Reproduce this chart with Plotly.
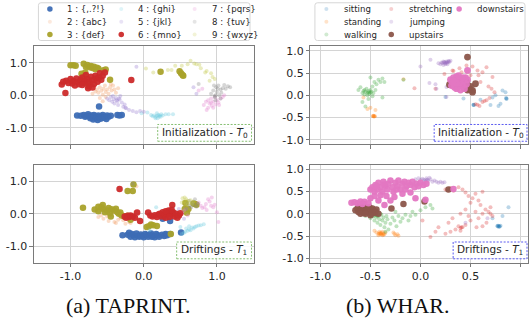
import plotly.graph_objects as go

W, H = 529, 324

# ---------------- categories / labels ----------------
tap_labels = ["1 : {,.?!}", "2 : {abc}", "3 : {def}", "4 : {ghi}", "5 : {jkl}",
              "6 : {mno}", "7 : {pqrs}", "8 : {tuv}", "9 : {wxyz}"]
whar_labels = ["sitting", "standing", "walking", "stretching", "jumping", "upstairs", "downstairs"]

tap_tickvals = [-1.0, 0.0, 1.0]
tap_ticktext = ["-1.0", "0.0", "1.0"]
whar_tickvals = [-1.0, -0.5, 0.0, 0.5, 1.0]
whar_ticktext = ["-1.0", "-0.5", "0.0", "0.5", "1.0"]

caption_a = "(a) TAPRINT."
caption_b = "(b) WHAR."
label_t0 = "Initialization - <i>T</i><sub>0</sub>"
label_t1 = "Driftings - <i>T</i><sub>1</sub>"

# ---------------- TAPRINT, T0 ----------------
tap0_c1 = [(-0.91,-0.62),(-0.86,-0.63),(-0.82,-0.60),(-0.80,-0.66),(-0.78,-0.63),(-0.76,-0.58),(-0.74,-0.65),
           (-0.73,-0.70),(-0.71,-0.62),(-0.70,-0.67),(-0.69,-0.74),(-0.68,-0.60),(-0.66,-0.64),(-0.65,-0.70),
           (-0.64,-0.66),(-0.63,-0.76),(-0.62,-0.62),(-0.60,-0.68),(-0.59,-0.72),(-0.58,-0.64),(-0.56,-0.60),
           (-0.55,-0.69),(-0.53,-0.66),(-0.51,-0.73),(-0.50,-0.62),(-0.48,-0.66),(-0.45,-0.63),(-0.36,-0.60),
           (-0.33,-0.62),(-0.30,-0.60),(-0.61,-0.34)]
tap0_c2 = [(-0.70,0.05),(-0.66,0.12),(-0.64,0.18),(-0.62,0.08),(-0.60,0.25),(-0.58,0.14),(-0.56,0.02),
           (-0.55,0.20),(-0.53,0.30),(-0.52,0.10),(-0.50,0.18),(-0.48,0.05),(-0.46,0.25),(-0.44,0.15),
           (-0.42,0.30),(-0.40,0.18),(-0.45,0.35),(-0.60,-0.08),(-0.56,-0.18),(-0.52,-0.05),(-0.65,0.35),
           (-0.38,0.08),(-0.70,0.28),(-0.35,0.22)]
tap0_c3 = [(-1.00,0.92),(-0.96,0.92),(-0.93,0.91),(-0.82,0.97),(-0.79,0.88),(-0.77,0.93),(-0.74,0.86),
           (-0.72,0.90),(-0.70,0.84),(-0.68,0.88),(-0.66,0.80),(-0.64,0.85),(-0.62,0.82),(-0.55,0.77),
           (-0.52,0.79),(-0.85,0.66),(-0.80,0.70),(-0.76,0.35),(-0.73,0.37),(-0.46,0.48),(0.23,0.72),
           (0.49,0.74),(0.51,0.68),(0.53,0.62),(0.54,0.60)]
tap0_c4 = [(-0.03,-0.55),(0.05,-0.53),(0.10,-0.60),(0.12,-0.64),(0.14,-0.62),(0.16,-0.66),(0.18,-0.63),
           (0.19,-0.70),(0.20,-0.60),(0.21,-0.65),(0.22,-0.62),(0.24,-0.58),(0.26,-0.62),(0.30,-0.58),
           (0.34,-0.58),(0.40,-0.58),(0.18,-0.55),(0.16,-0.70),(0.23,-0.66)]
tap0_c5 = [(-0.50,-0.10),(-0.47,-0.15),(-0.45,-0.05),(-0.43,-0.20),(-0.41,-0.12),(-0.40,-0.25),(-0.38,-0.08),
           (-0.36,-0.18),(-0.35,-0.30),(-0.33,-0.12),(-0.32,-0.02),(-0.30,-0.22),(-0.28,-0.35),(-0.26,-0.28),
           (-0.24,-0.40),(-0.20,-0.45),(-0.15,-0.48),(-0.10,-0.52),(-0.05,-0.48),(0.00,-0.50),(-0.10,0.88),
           (0.68,0.25),(0.72,0.05),(-0.42,-0.02),(-0.25,-0.38),(-0.37,-0.15),(-0.34,-0.10)]
tap0_c6 = [(-1.12,0.33),(-1.10,0.42),(-1.07,0.07),(-1.06,0.45),(-1.03,0.38),(-1.00,0.50),(-0.98,0.36),
           (-0.96,0.44),(-0.94,0.30),(-0.92,0.52),(-0.90,0.40),(-0.88,0.34),(-0.86,0.48),(-0.84,0.55),
           (-0.82,0.38),(-0.80,0.45),(-0.79,0.62),(-0.77,0.50),(-0.75,0.28),(-0.74,0.40),(-0.72,0.57),
           (-0.70,0.46),(-0.68,0.35),(-0.66,0.60),(-0.65,0.52),(-0.63,0.42),(-0.61,0.55),(-0.60,0.68),
           (-0.58,0.48),(-0.56,0.60),(-0.53,0.70),(-0.76,0.22),(-0.70,0.24),(-0.84,0.32),(-0.17,0.47)]
tap0_c7 = [(0.82,-0.30),(0.85,-0.20),(0.88,-0.15),(0.90,-0.25),(0.92,-0.10),(0.93,-0.32),(0.95,-0.20),
           (0.97,-0.05),(0.98,-0.28),(1.00,-0.15),(1.02,-0.22),(1.05,-0.10),(1.08,-0.05),(1.10,0.00),
           (0.88,-0.38),(0.86,-0.45),(0.95,-0.38),(0.75,0.15),(0.80,0.20),(1.03,-0.30),(0.92,-0.22)]
tap0_c8 = [(0.92,0.05),(0.95,0.15),(0.97,-0.05),(0.99,0.25),(1.00,0.10),(1.02,0.30),(1.03,0.00),
           (1.05,0.18),(1.06,0.08),(1.08,0.22),(1.10,0.32),(1.12,0.20),(1.15,0.28),(1.18,0.25),
           (1.05,-0.10),(0.98,-0.15),(1.01,0.20),(0.96,0.30),(0.75,0.35),(0.97,-0.02),(0.98,0.0)]
tap0_c9 = [(0.03,0.82),(0.13,0.70),(0.33,0.78),(0.38,0.78),(0.43,0.91),(0.52,0.91),(0.64,1.06),
           (0.69,0.98),(0.72,0.95),(0.76,0.94),(0.78,0.83),(0.84,0.70),(0.86,0.75),(0.92,0.68),
           (0.94,0.56),(0.90,0.45),(0.97,0.50),(0.60,0.95)]

# ---------------- TAPRINT, T1 ----------------
tap1_c1 = [(-0.29,-0.66),(-0.22,-0.64),(-0.20,-0.58),(-0.18,-0.70),(-0.16,-0.62),(-0.14,-0.66),(-0.12,-0.72),
           (-0.10,-0.60),(-0.08,-0.67),(-0.06,-0.70),(-0.04,-0.63),(-0.02,-0.68),(0.00,-0.72),(0.02,-0.62),
           (0.04,-0.66),(0.06,-0.70),(0.08,-0.64),(0.10,-0.60),(0.11,-0.70),(0.13,-0.67),(0.15,-0.72),
           (0.17,-0.62),(0.19,-0.66),(0.21,-0.70),(0.25,-0.64),(0.28,-0.68),(0.30,-0.62),(0.32,-0.66),
           (0.36,-0.62),(0.51,-0.57),(0.36,-0.22),(0.26,-0.15)]
tap1_c2 = [(-0.62,-0.10),(-0.58,-0.05),(-0.55,-0.15),(-0.50,-0.08),(-0.48,-0.22),(-0.44,-0.05),(-0.40,-0.25),
           (-0.38,-0.28),(-0.35,-0.18),(-0.32,-0.12),(-0.28,-0.20),(-0.25,-0.30),(-0.20,-0.25),(-0.15,-0.15),
           (-0.12,0.05),(-0.08,-0.15),(-0.60,0.10),(-0.10,0.85),(-0.18,-0.28),(-0.42,0.05)]
tap1_c3 = [(-0.83,0.19),(-0.67,0.13),(-0.62,0.08),(-0.58,0.20),(-0.56,0.27),(-0.55,0.15),(-0.53,0.05),
           (-0.50,0.10),(-0.48,0.18),(-0.46,0.02),(-0.44,0.14),(-0.40,0.10),(-0.38,0.16),(-0.36,0.05),
           (-0.34,0.00),(-0.32,0.04),(-0.30,-0.05),(-0.45,-0.08),(-0.62,0.22),(-0.27,-0.07),(-0.22,-0.06),
           (-0.18,-0.18),(-0.22,0.70),(-0.15,0.70),(-0.14,0.90),(0.07,-0.38),(0.10,-0.33),(0.13,-0.35),
           (0.18,-0.37),(0.04,-0.40),(0.37,-0.62),(0.56,0.15),(0.59,0.03),(0.57,0.33),(0.61,0.15),
           (0.68,0.32),(0.70,0.30),(0.72,0.28)]
tap1_c4 = [(0.52,-0.62),(0.55,-0.58),(0.57,-0.55),(0.60,-0.52),(0.62,-0.48),(0.64,-0.50),(0.66,-0.42),
           (0.68,-0.45),(0.70,-0.40),(0.72,-0.38),(0.75,-0.36),(0.78,-0.35),(0.82,-0.32),(0.58,-0.45),
           (0.62,-0.38),(0.17,0.20),(0.08,-0.50),(0.50,-0.40)]
tap1_c5 = [(0.45,0.05),(0.50,-0.08),(0.55,-0.15),(0.42,-0.10),(0.48,0.15),(0.40,0.18),(0.58,0.15),
           (0.35,-0.05),(0.52,0.02)]
tap1_c6 = [(-0.26,-0.08),(-0.24,-0.12),(-0.22,-0.06),(-0.20,-0.10),(-0.18,-0.05),(-0.15,-0.08),(-0.12,-0.12),
           (-0.09,0.04),(-0.05,-0.22),(0.06,0.04),(0.09,-0.05),(0.12,-0.08),(0.15,-0.04),(0.18,-0.10),
           (0.20,-0.02),(0.22,0.00),(0.24,-0.08),(0.26,0.05),(0.28,-0.05),(0.30,-0.12),(0.32,0.02),
           (0.34,0.10),(0.39,0.27),(0.37,-0.03),(0.40,0.05),(0.42,-0.08),(0.44,0.00),(0.46,-0.12),
           (0.48,-0.05),(0.50,0.02),(0.38,0.12),(-0.33,0.76),(0.30,0.08),(0.35,-0.10)]
tap1_c7 = [(0.78,0.25),(0.80,0.18),(0.83,0.20),(0.85,0.30),(0.88,0.45),(0.90,0.38),(0.92,0.25),
           (0.95,0.20),(0.97,0.28),(1.00,0.05),(1.02,-0.25),(0.86,0.12),(0.93,0.50),(0.75,0.35),
           (0.55,0.10),(0.60,-0.05)]
tap1_c8 = [(0.60,0.30),(0.63,0.25),(0.66,0.35),(0.68,0.28),(0.70,0.45),(0.72,0.22),(0.74,0.32),
           (0.65,0.20),(0.62,0.40),(-0.15,0.92)]
tap1_c9 = [(0.53,0.48),(0.56,0.50),(0.58,0.45),(0.60,0.40),(0.55,0.38),(0.62,0.35),(0.64,0.42),
           (0.57,0.30),(0.60,0.28),(0.66,0.30),(0.52,0.35),(0.68,0.38)]

# ---------------- WHAR, T0 ----------------
whar0_sitting = [(0.82,0.11),(0.85,0.07),(0.75,0.00),(0.80,-0.19),(0.78,-0.24),(0.43,-0.07),(0.25,-0.04),
                 (0.72,-0.05),(0.70,-0.22),(0.86,-0.07),(0.86,-0.08),(0.855,-0.06),(0.53,-0.22),
                 (0.53,-0.21),(0.535,-0.22),(0.60,-0.10)]
whar0_standing = [(-0.57,-0.05),(-0.53,-0.31),(-0.45,-0.33),(-0.17,0.36),(-0.47,-0.47),(-0.46,-0.47),
                  (-0.475,-0.465),(-0.465,-0.475),(-0.47,-0.46),(-0.455,-0.47),(-0.50,-0.28)]
whar0_walking = [(-0.62,0.12),(-0.60,0.18),(-0.58,0.05),(-0.57,0.10),(-0.56,0.02),(-0.55,0.08),(-0.54,0.15),
                 (-0.53,0.06),(-0.52,0.10),(-0.51,0.03),(-0.50,0.12),(-0.49,0.08),(-0.48,0.20),(-0.47,0.05),
                 (-0.46,0.30),(-0.45,0.12),(-0.44,0.25),(-0.42,0.35),(-0.40,0.30),(-0.38,0.38),(-0.36,0.30),
                 (-0.38,-0.05),(-0.58,-0.15),(-0.55,-0.25),(-0.50,0.40),(-0.52,-0.08),(-0.17,0.35),
                 (-0.56,0.12),(-0.53,0.00),(-0.48,-0.02),(-0.52,0.07),(-0.50,0.06)]
whar0_stretching = [(0.32,0.56),(0.39,0.61),(0.46,0.67),(0.52,0.65),(0.57,0.56),(0.66,0.63),(0.72,0.41),
                    (0.71,0.15),(0.74,0.07),(0.69,-0.06),(0.66,-0.11),(0.62,-0.15),(0.59,-0.24),(0.55,-0.20),
                    (0.24,0.48),(-0.06,0.16),(0.41,0.52),(0.45,0.42),(0.50,0.45),(0.60,0.30),(0.15,0.15),
                    (0.68,0.20),(0.47,0.53),(0.58,0.45),(0.62,0.52),(0.64,-0.13),(0.57,-0.21),(0.33,0.55)]
whar0_jumping = [(0.10,0.80),(0.00,0.65),(0.18,0.72),(0.20,0.70),(0.21,0.74),(0.22,0.73),(0.23,0.76),
                 (0.24,0.75),(0.25,0.72),(0.26,0.76),(0.27,0.74),(0.28,0.77),(0.29,0.75),(0.30,0.78),
                 (0.25,0.70),(0.23,0.68),(0.27,0.70),(0.26,0.19),(0.16,0.15),(0.09,0.28),(0.26,-0.04),
                 (0.26,0.74),(0.28,0.76),(0.24,0.74),(0.15,0.25)]
whar0_upstairs = [(0.47,0.86),(0.29,0.24),(0.41,0.22),(0.46,0.30),(0.52,0.11),(0.55,0.26),(0.49,0.15),
                  (0.44,0.16),(0.52,0.07),(0.50,0.20),(0.47,0.12)]
whar0_downstairs = [(0.30,0.35),(0.32,0.30),(0.33,0.40),(0.34,0.25),(0.35,0.35),(0.36,0.42),(0.37,0.30),
                    (0.38,0.20),(0.39,0.36),(0.40,0.28),(0.41,0.38),(0.42,0.22),(0.43,0.33),(0.44,0.15),
                    (0.45,0.40),(0.46,0.25),(0.47,0.35),(0.47,0.56),(0.36,0.15),(0.34,0.18),(0.40,0.12),
                    (0.42,0.40),(0.31,0.22),(0.38,0.44),(0.36,0.28),(0.33,0.33)]

# ---------------- WHAR, T1 ----------------
whar1_sitting = [(0.77,-0.28),(0.78,-0.27),(0.79,-0.28),(0.78,-0.29),(0.80,-0.27),(0.77,-0.27),
                 (0.79,-0.29),(0.88,0.15),(0.72,-0.10),(0.82,-0.05)]
whar1_standing = [(-0.44,-0.42),(-0.42,-0.45),(-0.41,-0.40),(-0.40,-0.46),(-0.39,-0.43),(-0.38,-0.48),
                  (-0.37,-0.44),(-0.36,-0.46),(-0.35,-0.42),(-0.42,-0.48),(-0.38,-0.40),(-0.40,-0.43),
                  (-0.37,-0.47),(-0.26,-0.45),(-0.25,-0.48),(-0.23,-0.46),(-0.27,-0.42),(-0.22,-0.49),
                  (-0.46,-0.38),(-0.39,-0.46),(-0.41,-0.44)]
whar1_walking = [(-0.50,-0.10),(-0.48,-0.05),(-0.46,-0.15),(-0.45,-0.02),(-0.44,-0.08),(-0.43,-0.20),
                 (-0.42,-0.05),(-0.41,-0.12),(-0.40,-0.25),(-0.39,-0.02),(-0.38,-0.15),(-0.37,-0.08),
                 (-0.36,-0.30),(-0.35,-0.20),(-0.34,-0.05),(-0.33,-0.12),(-0.32,-0.35),(-0.30,-0.22),
                 (-0.28,-0.08),(-0.26,-0.15),(-0.24,-0.28),(-0.22,-0.05),(-0.20,-0.18),(-0.18,-0.10),
                 (-0.15,-0.02),(-0.12,-0.15),(-0.10,-0.05),(-0.08,0.05),(-0.05,-0.02),(0.00,0.08),
                 (0.05,0.15),(0.10,0.20),(0.12,0.12),(-0.46,0.00),(-0.44,-0.03),(-0.42,-0.01),
                 (-0.40,0.00),(-0.47,-0.06),(-0.55,-0.05),(-0.25,0.05),(-0.35,-0.40),(-0.43,-0.04)]
whar1_stretching = [(0.25,0.55),(0.30,0.58),(0.33,0.52),(0.38,0.60),(0.42,0.55),(0.45,0.48),(0.48,0.40),
                    (0.52,0.35),(0.55,0.45),(0.58,0.30),(0.60,0.20),(0.62,0.50),(0.65,0.10),(0.68,0.05),
                    (0.70,0.00),(0.72,-0.05),(0.62,0.00),(0.58,-0.10),(0.55,0.05),(0.50,-0.15),(0.45,-0.25),
                    (0.42,-0.30),(0.40,-0.32),(0.38,-0.28),(0.35,-0.35),(0.30,-0.40),(0.25,-0.45),
                    (0.15,-0.40),(0.28,-0.20),(0.32,-0.10),(0.40,0.00),(0.45,0.10),(0.48,-0.05),
                    (0.56,-0.30),(0.62,-0.28),(0.50,0.25),(0.70,0.15),(0.66,-0.20),(0.10,-0.52),
                    (0.40,-0.38),(0.41,-0.30),(0.02,-0.15),(0.18,-0.30),(0.27,0.53),(0.29,0.56)]
whar1_jumping = [(-0.05,0.78),(-0.02,0.80),(0.00,0.76),(0.02,0.79),(0.04,0.75),(0.06,0.80),(0.07,0.77),
                 (0.08,0.74),(0.10,0.78),(0.12,0.72),(0.14,0.75),(0.16,0.72),(0.18,0.70),(0.20,0.72),
                 (0.22,0.70),(0.24,0.71),(0.05,0.72),(0.09,0.81),(0.67,-0.10),(0.45,-0.20),(0.03,0.77),
                 (0.06,0.76)]
whar1_upstairs = [(-0.65,0.08),(-0.63,0.12),(-0.62,0.04),(-0.60,0.15),(-0.59,0.06),(-0.58,0.10),(-0.57,0.02),
                  (-0.56,0.18),(-0.55,0.08),(-0.54,0.12),(-0.53,0.04),(-0.52,0.10),(-0.51,0.15),(-0.50,0.06),
                  (-0.49,0.00),(-0.48,0.12),(-0.47,0.08),(-0.46,0.02),(-0.45,0.05),(-0.61,0.20),(-0.57,0.22),
                  (-0.50,-0.03),(-0.44,0.10),(-0.29,0.12),(-0.17,0.22),(0.04,0.28),(0.28,0.55),(-0.42,0.00),
                  (-0.60,0.00),(-0.55,0.00)]
whar1_downstairs = [(-0.69,0.25),(-0.66,0.26),(-0.63,0.24),(-0.60,0.28),(-0.58,0.22),(-0.56,0.27),(-0.52,0.24),
                    (-0.50,0.55),(-0.48,0.60),(-0.46,0.50),(-0.45,0.65),(-0.43,0.55),(-0.42,0.70),(-0.40,0.60),
                    (-0.38,0.50),(-0.37,0.72),(-0.35,0.62),(-0.33,0.55),(-0.32,0.68),(-0.30,0.75),(-0.28,0.60),
                    (-0.27,0.50),(-0.25,0.70),(-0.23,0.62),(-0.22,0.75),(-0.20,0.55),(-0.18,0.68),(-0.16,0.72),
                    (-0.14,0.62),(-0.12,0.70),(-0.10,0.65),(-0.08,0.72),(-0.06,0.60),(-0.04,0.68),(-0.02,0.62),
                    (0.00,0.70),(0.03,0.65),(0.06,0.68),(-0.46,0.40),(-0.40,0.42),(-0.34,0.40),(-0.26,0.38),
                    (-0.18,0.45),(-0.10,0.48),(-0.05,0.35),(0.05,0.32),(-0.30,0.30),(-0.42,0.30),(0.33,0.56),
                    (-0.36,0.20),(-0.50,0.35),(-0.44,0.62),(-0.36,0.66),(-0.24,0.55),(-0.15,0.55)]

tap_t0 = [tap0_c1, tap0_c2, tap0_c3, tap0_c4, tap0_c5, tap0_c6, tap0_c7, tap0_c8, tap0_c9]
tap_t1 = [tap1_c1, tap1_c2, tap1_c3, tap1_c4, tap1_c5, tap1_c6, tap1_c7, tap1_c8, tap1_c9]
whar_t0 = [whar0_sitting, whar0_standing, whar0_walking, whar0_stretching, whar0_jumping, whar0_upstairs, whar0_downstairs]
whar_t1 = [whar1_sitting, whar1_standing, whar1_walking, whar1_stretching, whar1_jumping, whar1_upstairs, whar1_downstairs]

# ---------------- styles ----------------
tap_colors = ["#3d6db5", "#f29a62", "#a9a22b", "#6ccbe0", "#9a80d2", "#cc2b2b", "#e285cf", "#8a8a8a", "#c4c84a"]
tap_big = [True, False, True, False, False, True, False, False, False]
whar_colors = ["#1f77b4", "#ff7f0e", "#2ca02c", "#d62728", "#9467bd", "#8c564b", "#e377c2"]
whar_big = [False, False, False, False, False, True, True]

FONT = "DejaVu Sans"
fig = go.Figure()


def px_x(p):
    return p / W


def px_y(p):
    return 1 - p / H


def add_points(points, color, big, xa, ya, size_big, opacity_faint):
    xs = [p[0] for p in points]
    ys = [p[1] for p in points]
    fig.add_trace(go.Scatter(
        x=xs, y=ys, mode="markers", xaxis=xa, yaxis=ya, showlegend=False, hoverinfo="skip",
        marker=dict(color=color, size=size_big if big else 4,
                    opacity=0.95 if big else opacity_faint, line=dict(width=0))))


for cls, pts in enumerate(tap_t0):
    add_points(pts, tap_colors[cls], tap_big[cls], "x", "y", 6.5, 0.35)
for cls, pts in enumerate(tap_t1):
    add_points(pts, tap_colors[cls], tap_big[cls], "x2", "y2", 6.5, 0.35)
for cls, pts in enumerate(whar_t0):
    add_points(pts, whar_colors[cls], whar_big[cls], "x3", "y3", 6.8, 0.3)
for cls, pts in enumerate(whar_t1):
    add_points(pts, whar_colors[cls], whar_big[cls], "x4", "y4", 6.5, 0.3)

# ---------------- axes ----------------
axis_style = dict(showgrid=True, gridcolor="#d4d4d4", gridwidth=1, zeroline=False,
                  showline=True, mirror=True, linecolor="#7a7a7a", linewidth=1,
                  ticks="outside", ticklen=3.5, tickcolor="#7a7a7a",
                  tickfont=dict(family=FONT, size=11, color="#262626"))

left_x = [px_x(33), px_x(253)]
right_x = [px_x(310), px_x(528)]
top_y = [px_y(144), px_y(45)]
bot_y = [px_y(264), px_y(165)]

layout_axes = dict(
    xaxis=dict(domain=left_x, anchor="y", range=[-1.5, 1.5], tickvals=tap_tickvals, ticktext=tap_ticktext,
               showticklabels=False, **axis_style),
    yaxis=dict(domain=top_y, anchor="x", range=[-1.5, 1.5], tickvals=tap_tickvals, ticktext=tap_ticktext, **axis_style),
    xaxis2=dict(domain=left_x, anchor="y2", range=[-1.5, 1.5], tickvals=tap_tickvals, ticktext=tap_ticktext, **axis_style),
    yaxis2=dict(domain=bot_y, anchor="x2", range=[-1.5, 1.5], tickvals=tap_tickvals, ticktext=tap_ticktext, **axis_style),
    xaxis3=dict(domain=right_x, anchor="y3", range=[-1.1, 1.075], tickvals=whar_tickvals, ticktext=whar_ticktext,
                showticklabels=False, **axis_style),
    yaxis3=dict(domain=top_y, anchor="x3", range=[-1.1, 1.1], tickvals=whar_tickvals, ticktext=whar_ticktext, **axis_style),
    xaxis4=dict(domain=right_x, anchor="y4", range=[-1.1, 1.075], tickvals=whar_tickvals, ticktext=whar_ticktext, **axis_style),
    yaxis4=dict(domain=bot_y, anchor="x4", range=[-1.1, 1.1], tickvals=whar_tickvals, ticktext=whar_ticktext, **axis_style),
)

# hidden axes hosting the two hand-built legends (ranges in page pixels)
hidden = dict(visible=False, showgrid=False, zeroline=False, fixedrange=True)
leg_l = (35, 252)
leg_r = (312, 527)
leg_y = (0, 41)
layout_axes.update(
    xaxis5=dict(domain=[px_x(leg_l[0]), px_x(leg_l[1])], range=list(leg_l), anchor="y5", **hidden),
    yaxis5=dict(domain=[px_y(leg_y[1]), px_y(leg_y[0])], range=[leg_y[1], leg_y[0]], anchor="x5", **hidden),
    xaxis6=dict(domain=[px_x(leg_r[0]), px_x(leg_r[1])], range=list(leg_r), anchor="y6", **hidden),
    yaxis6=dict(domain=[px_y(leg_y[1]), px_y(leg_y[0])], range=[leg_y[1], leg_y[0]], anchor="x6", **hidden),
)

annotations = []
shapes = []


def rounded_box(x0, y0, x1, y1, r, xref, yref, color):
    path = (f"M {x0 + r},{y0} L {x1 - r},{y0} Q {x1},{y0} {x1},{y0 + r} L {x1},{y1 - r} "
            f"Q {x1},{y1} {x1 - r},{y1} L {x0 + r},{y1} Q {x0},{y1} {x0},{y1 - r} "
            f"L {x0},{y0 + r} Q {x0},{y0} {x0 + r},{y0} Z")
    shapes.append(dict(type="path", path=path, xref=xref, yref=yref,
                       line=dict(color=color, width=1), fillcolor="rgba(255,255,255,0.8)", layer="below"))


def build_legend(labels, colors, big, xref, yref, col_x, text_dx, nrows=3):
    row_y = [7, 20, 33]
    for i, lab in enumerate(labels):
        c, r = divmod(i, nrows)
        mx, my = col_x[c], row_y[r]
        fig.add_trace(go.Scatter(
            x=[mx], y=[my], mode="markers", xaxis=xref, yaxis=yref, showlegend=False, hoverinfo="skip",
            marker=dict(color=colors[i], size=5.5 if big[i] else 4,
                        opacity=0.95 if big[i] else 0.22, line=dict(width=0))))
        annotations.append(dict(x=mx + text_dx, y=my, xref=xref, yref=yref, text=lab, showarrow=False,
                                xanchor="left", yanchor="middle",
                                font=dict(family=FONT, size=8.6, color="#262626")))


rounded_box(37.5, 0.8, 249.5, 39, 2.5, "x5", "y5", "#d6d6d6")
rounded_box(314.5, 0.8, 525, 39, 2.5, "x6", "y6", "#d6d6d6")
build_legend(tap_labels, tap_colors, tap_big, "x5", "y5", [49, 120.5, 194], 15)
build_legend(whar_labels, whar_colors, whar_big, "x6", "y6", [326, 391, 459], 15.5)


def label_box(x0, y0, x1, y1, text, color):
    shapes.append(dict(type="rect", xref="paper", yref="paper",
                       x0=px_x(x0), x1=px_x(x1), y0=px_y(y1), y1=px_y(y0),
                       line=dict(color=color, width=1, dash="2px,1.5px"),
                       fillcolor="rgba(255,255,255,0.85)", layer="above"))
    annotations.append(dict(x=px_x((x0 + x1) / 2), y=px_y((y0 + y1) / 2), xref="paper", yref="paper",
                            text=text, showarrow=False, xanchor="center", yanchor="middle",
                            font=dict(family=FONT, size=10.5, color="#262626")))


label_box(157, 124, 251, 141, label_t0, "#86bf72")
label_box(176, 243, 251, 260, label_t1, "#86bf72")
label_box(434, 124, 527, 141, label_t0, "#5b5bf0")
label_box(453, 243, 527, 260, label_t1, "#5b5bf0")

annotations.append(dict(x=px_x(128), y=px_y(307), xref="paper", yref="paper", text=caption_a,
                        showarrow=False, xanchor="center", yanchor="middle",
                        font=dict(family="Liberation Serif", size=22, color="#111111")))
annotations.append(dict(x=px_x(397), y=px_y(307), xref="paper", yref="paper", text=caption_b,
                        showarrow=False, xanchor="center", yanchor="middle",
                        font=dict(family="Liberation Serif", size=22, color="#111111")))

fig.update_layout(
    width=W, height=H, margin=dict(l=0, r=0, t=0, b=0),
    paper_bgcolor="white", plot_bgcolor="white",
    showlegend=False, annotations=annotations, shapes=shapes,
    font=dict(family=FONT, size=11, color="#262626"),
    **layout_axes,
)

fig.write_html("out.html", config={"displayModeBar": False},
               post_script="document.body.style.margin='0';document.body.style.overflow='hidden';")
